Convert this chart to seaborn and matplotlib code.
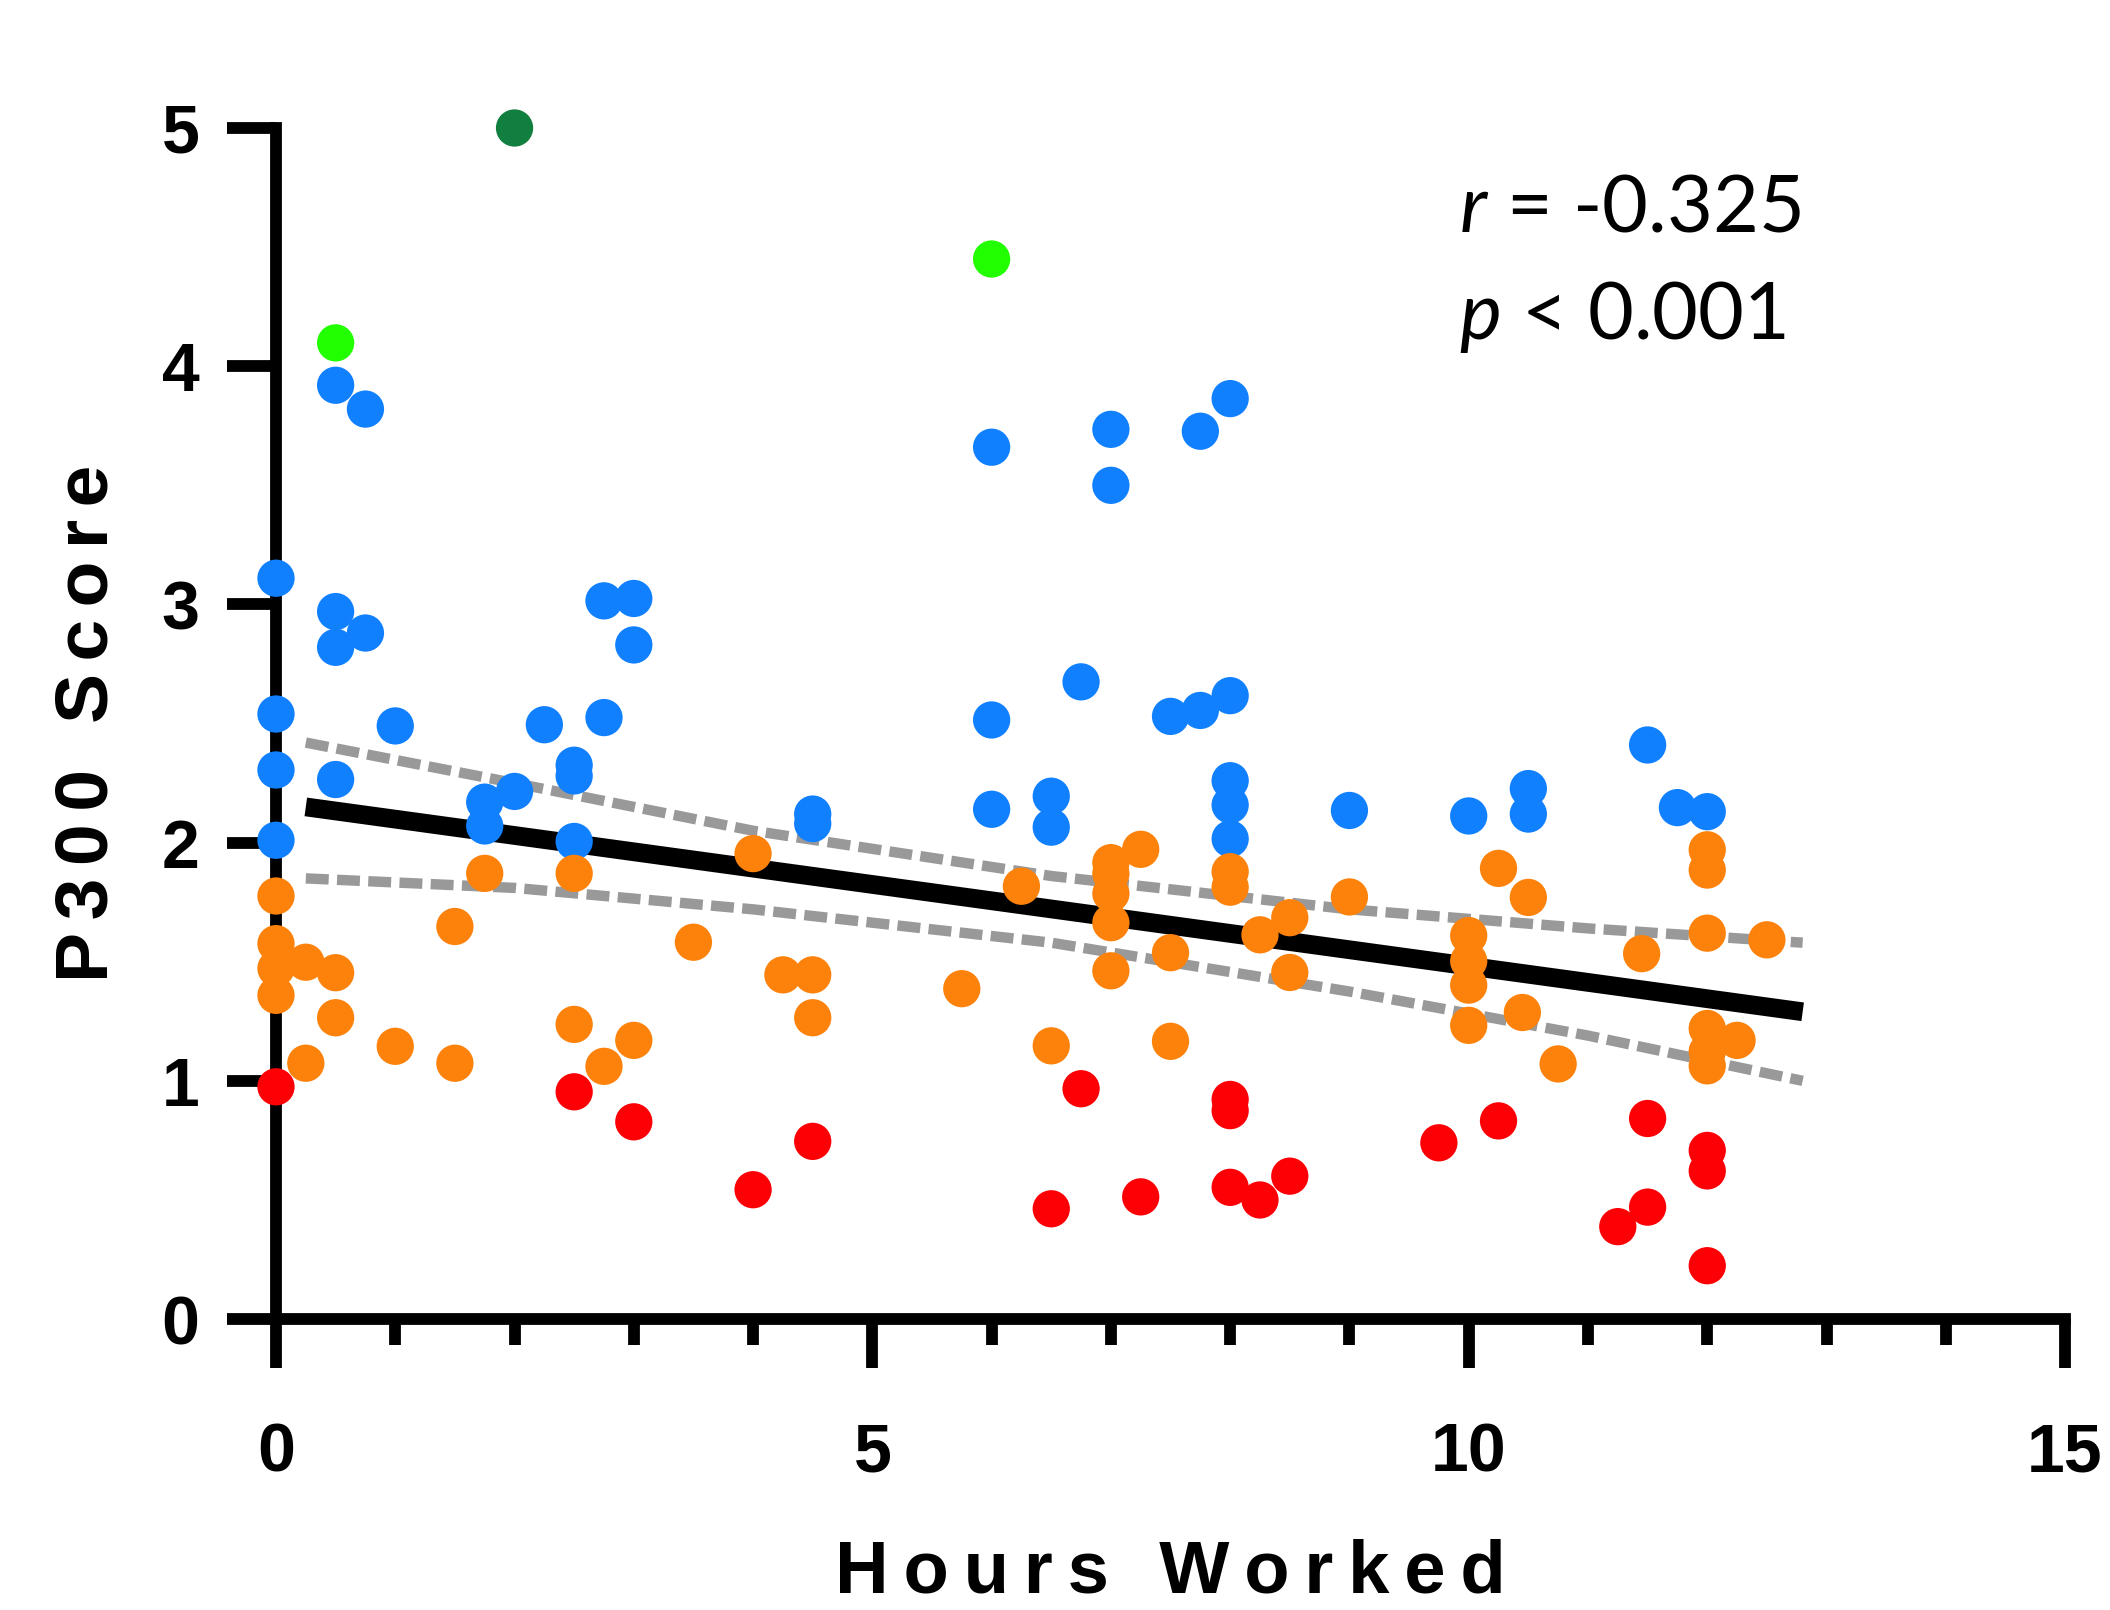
import matplotlib
matplotlib.use('Agg')
import matplotlib.pyplot as plt
from matplotlib.ticker import MultipleLocator
import pandas as pd
import seaborn as sns

# points, grouped by colour band
blue_hours = [0, 0, 0, 0, 0.5, 0.75, 0.5, 0.75, 0.5, 0.5,
              1.0, 1.75, 1.75, 2.0, 2.25, 2.5, 2.5, 2.5, 2.75, 3.0, 3.0, 2.75,
              4.5, 4.5, 6.0, 6.0, 6.0, 6.5, 6.5, 6.75,
              7.0, 7.0, 7.5, 7.75, 7.75, 8.0, 8.0, 8.0, 8.0, 8.0,
              9.0, 10.0, 10.5, 10.5, 11.5, 11.75, 12.0]
blue_score = [3.11, 2.54, 2.305, 2.01, 3.92, 3.82, 2.97, 2.88, 2.82, 2.265,
              2.49, 2.17, 2.07, 2.215, 2.495, 2.325, 2.28, 2.005, 3.015, 3.025, 2.83, 2.525,
              2.12, 2.08, 3.66, 2.515, 2.14, 2.195, 2.065, 2.675,
              3.735, 3.50, 2.53, 2.555, 3.727, 3.864, 2.617, 2.26, 2.158, 2.016,
              2.135, 2.112, 2.227, 2.12, 2.41, 2.147, 2.13]

orange_hours = [0, 0, 0, 0, 0.25, 0.5, 0.5, 0.25, 1.0, 1.5, 1.5, 1.75, 2.5, 2.5,
                2.75, 3.0, 3.5, 4.0, 4.25, 4.5, 4.5, 5.75, 6.25, 6.5,
                7.0, 7.0, 7.0, 7.0, 7.0, 7.25, 7.5, 7.5, 8.0, 8.0, 8.25, 8.5, 8.5, 9.0,
                10.0, 10.0, 10.0, 10.0, 10.25, 10.5, 10.45, 10.75, 11.45,
                12.0, 12.0, 12.0, 12.0, 12.0, 12.0, 12.25, 12.5]
orange_score = [1.776, 1.576, 1.472, 1.359, 1.498, 1.454, 1.265, 1.074, 1.145, 1.648, 1.074, 1.871, 1.871, 1.237,
                1.061, 1.17, 1.582, 1.954, 1.445, 1.445, 1.265, 1.387, 1.817, 1.147,
                1.916, 1.87, 1.786, 1.664, 1.462, 1.972, 1.538, 1.166, 1.878, 1.813, 1.613, 1.685, 1.455, 1.772,
                1.61, 1.503, 1.402, 1.233, 1.892, 1.77, 1.287, 1.071, 1.534,
                1.97, 1.885, 1.62, 1.22, 1.123, 1.063, 1.17, 1.592]

red_hours = [0, 2.5, 3.0, 4.0, 4.5, 6.5, 6.75, 7.25, 8.0, 8.0, 8.0, 8.25, 8.5,
             9.75, 10.25, 11.25, 11.5, 11.5, 12.0, 12.0, 12.0]
red_score = [0.975, 0.954, 0.828, 0.543, 0.746, 0.463, 0.967, 0.513, 0.922, 0.875, 0.553, 0.50, 0.60,
             0.74, 0.832, 0.388, 0.842, 0.47, 0.708, 0.622, 0.224]

lime_hours = [0.5, 6.0]
lime_score = [4.098, 4.45]

green_hours = [2.0]
green_score = [5.0]

# regression line and its confidence bands
fit_hours = [0.25, 12.8]
fit_score = [2.15, 1.29]
ci_hours = [0.25, 2, 4, 6.5, 9, 11, 12.8]
ci_upper = [2.42, 2.25, 2.05, 1.86, 1.72, 1.64, 1.58]
ci_lower = [1.85, 1.81, 1.72, 1.58, 1.375, 1.19, 1.00]

df = pd.DataFrame({
    'hours': blue_hours + orange_hours + red_hours + lime_hours + green_hours,
    'score': blue_score + orange_score + red_score + lime_score + green_score,
    'band': (['2-4'] * len(blue_hours) + ['1-2'] * len(orange_hours) + ['<1'] * len(red_hours)
             + ['4-5'] * len(lime_hours) + ['5'] * len(green_hours)),
})
palette = {'2-4': '#1080FF', '1-2': '#FC820B', '<1': '#FC0005', '4-5': '#22FF00', '5': '#117F40'}

sns.set_style('ticks')
plt.rcParams['font.family'] = ['Liberation Sans', 'DejaVu Sans']
plt.rcParams['text.color'] = 'black'
plt.rcParams['axes.labelcolor'] = 'black'
plt.rcParams['mathtext.fontset'] = 'custom'
plt.rcParams['mathtext.rm'] = 'Lato'
plt.rcParams['mathtext.it'] = 'Lato:italic'

fig = plt.figure(figsize=(21.1, 16.1), dpi=100)
ax = fig.add_axes([0.1308, 0.1807, 0.8479, 0.7398])

ax.plot(ci_hours, ci_upper, color='#999999', lw=7.5, dashes=(2.2, 0.8), zorder=3)
ax.plot(ci_hours, ci_lower, color='#999999', lw=7.5, dashes=(2.2, 0.8), zorder=3)
ax.plot(fit_hours, fit_score, color='black', lw=13.5, solid_capstyle='butt', zorder=4)
sns.scatterplot(data=df, x='hours', y='score', hue='band', palette=palette, s=720,
                linewidth=0, legend=False, clip_on=False, zorder=5, ax=ax)

ax.set_xlim(0, 15)
ax.set_ylim(0, 5)
ax.xaxis.set_major_locator(MultipleLocator(5))
ax.xaxis.set_minor_locator(MultipleLocator(1))
ax.yaxis.set_major_locator(MultipleLocator(1))

sns.despine(ax=ax)
for side in ['left', 'bottom']:
    ax.spines[side].set_linewidth(8.5)
    ax.spines[side].set_color('black')
    ax.spines[side].set_capstyle('projecting')

ax.tick_params(axis='both', which='major', length=35, width=8.5, color='black',
               labelsize=49, labelcolor='black', direction='out')
ax.tick_params(axis='x', which='major', pad=39)
ax.tick_params(axis='y', which='major', pad=20)
ax.tick_params(axis='x', which='minor', length=18.7, width=8.5, color='black', direction='out')
plt.setp(ax.get_xticklabels() + ax.get_yticklabels(), fontweight='bold')


def spaced(text, gap):
    # letter-spaced look of the original labels
    return gap.join(text)


ax.set_xlabel(spaced('Hours Worked', '\u2009'), fontsize=53.5, fontweight='bold',
              color='black', labelpad=38)
ax.set_ylabel(spaced('P300 Score', '\u2006'), fontsize=54, fontweight='bold',
              color='black', labelpad=28)

ax.text(9.92, 4.565, r'$r$ = -0.325', fontfamily='Lato', fontsize=57, va='baseline', ha='left')
ax.text(9.92, 4.114, r'$p$ < 0.001', fontfamily='Lato', fontsize=57, va='baseline', ha='left')

fig.savefig('out.png', dpi=100)
